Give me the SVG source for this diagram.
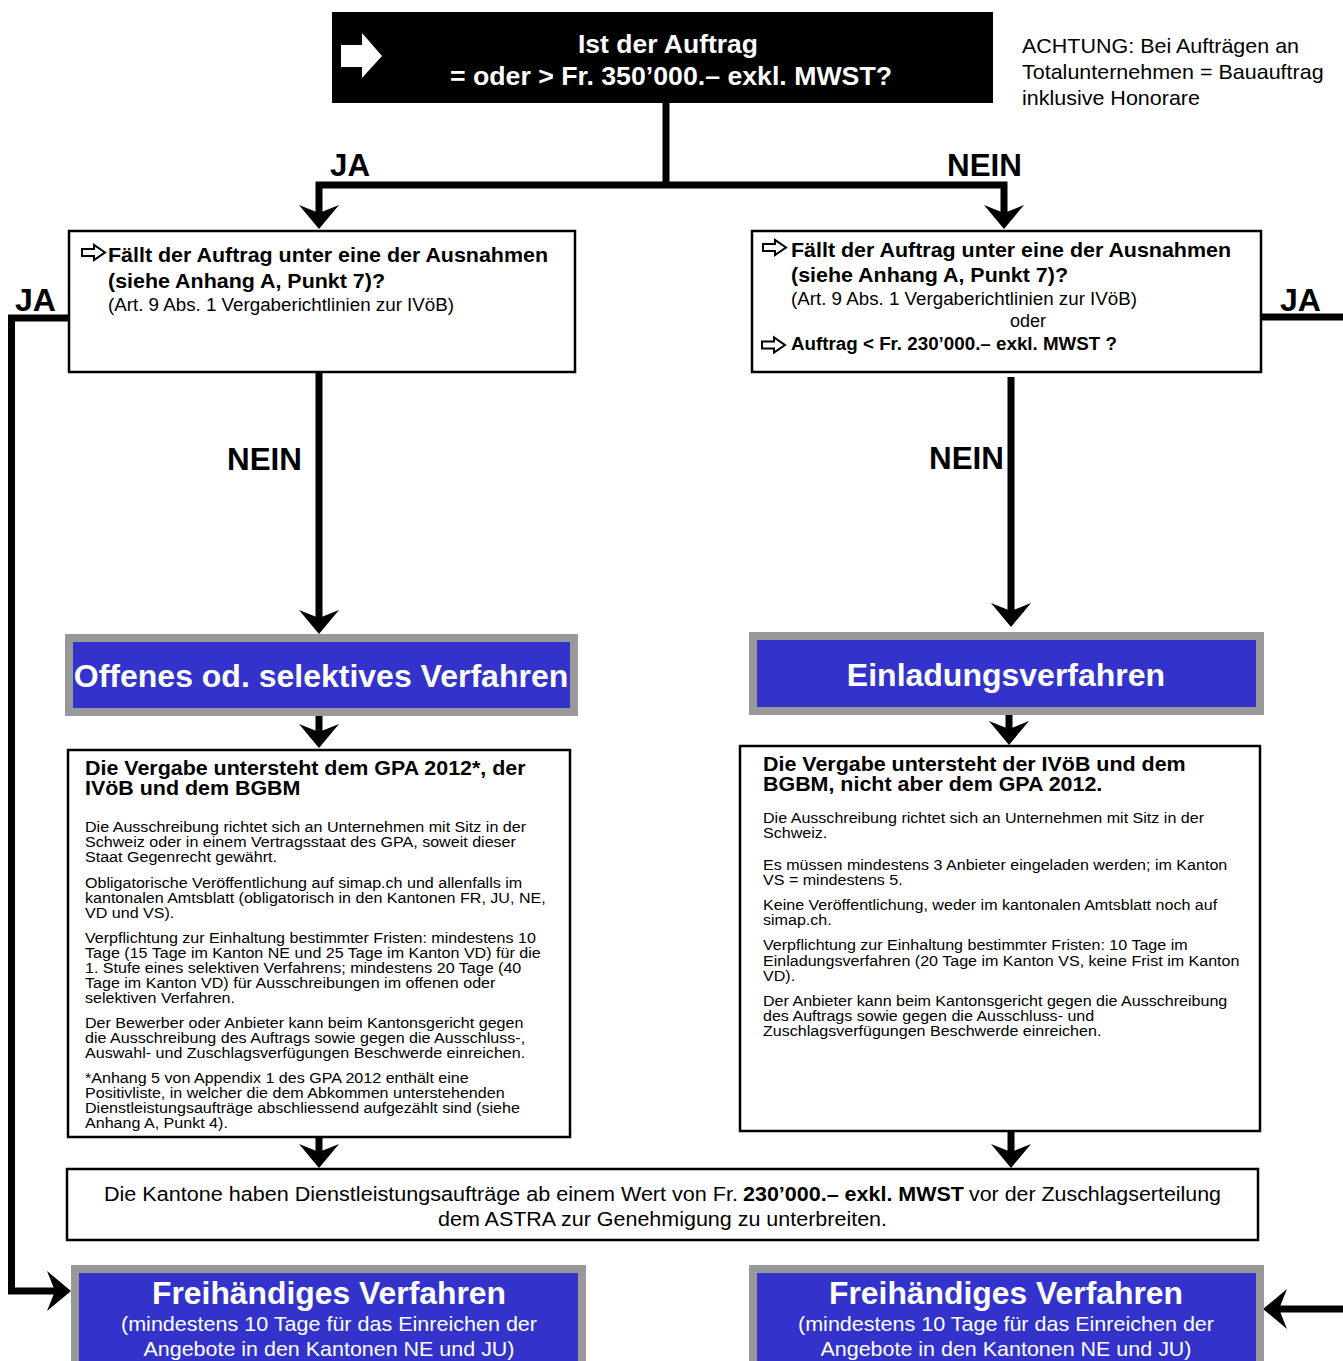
<svg xmlns="http://www.w3.org/2000/svg" xmlns:xlink="http://www.w3.org/1999/xlink" width="1343" height="1361" viewBox="0 0 1343 1361">
<style>
text{font-family:"Liberation Sans",Arial,sans-serif;fill:#000}
.box{fill:#fff;stroke:#000;stroke-width:2.5}
.gray{fill:#999}
.blue{fill:#3333CC}
.conn{fill:none;stroke:#000;stroke-width:7;stroke-linejoin:miter;stroke-linecap:butt}
.ah{fill:#000}
.icon{fill:#fff;stroke:#000;stroke-width:2;stroke-linejoin:miter}
.b{font-weight:bold}
.lbl{font-size:31px;font-weight:bold}
.q{font-size:21px;font-weight:bold}
.qs{font-size:18px}
.h20{font-size:20px;font-weight:bold}
.t15{font-size:15px}
.big{font-size:32px;font-weight:bold;fill:#fff}
.sub{font-size:21px;fill:#fff}
.wh{fill:#fff}
</style>
<defs>
<path id="ahd" class="ah" d="M0,0 L-20,-24 L0,-16 L20,-24 Z"/>
</defs>

<g id="start">
<rect x="332" y="12" width="661" height="91" fill="#000"/>
<polygon points="341,45 362,45 362,33 382,56 362,78 362,67 341,67" fill="#fff"/>
<text class="b wh" font-size="26" x="668" y="53" text-anchor="middle" textLength="180" lengthAdjust="spacingAndGlyphs">Ist der Auftrag</text>
<text class="b wh" font-size="26" x="671" y="85" text-anchor="middle" textLength="442" lengthAdjust="spacingAndGlyphs">= oder &gt; Fr. 350’000.– exkl. MWST?</text>
</g>

<g id="note" transform="translate(1022,0) scale(1.075,1) translate(-1022,0)">
<text font-size="20" x="1022" y="53">ACHTUNG: Bei Aufträgen an</text>
<text font-size="20" x="1022" y="79">Totalunternehmen = Bauauftrag</text>
<text font-size="20" x="1022" y="105">inklusive Honorare</text>
</g>

<g id="connectors">
<path class="conn" d="M666,103 V185"/>
<path class="conn" d="M319,213 V185 H1004 V213"/>
<use xlink:href="#ahd" transform="translate(319,229)"/>
<use xlink:href="#ahd" transform="translate(1004,229)"/>
<path class="conn" d="M319,372 V618"/>
<use xlink:href="#ahd" transform="translate(319,634)"/>
<path class="conn" d="M1011,377 V611"/>
<use xlink:href="#ahd" transform="translate(1011,627)"/>
<path class="conn" d="M319,708 V732"/>
<use xlink:href="#ahd" transform="translate(319,748)"/>
<path class="conn" d="M1009,707 V729"/>
<use xlink:href="#ahd" transform="translate(1009,745)"/>
<path class="conn" d="M319,1137 V1152"/>
<use xlink:href="#ahd" transform="translate(319,1168)"/>
<path class="conn" d="M1011,1131 V1152"/>
<use xlink:href="#ahd" transform="translate(1011,1168)"/>
<path class="conn" d="M69,318 H11.5 V1291 H55"/>
<use xlink:href="#ahd" transform="translate(71,1291) rotate(-90)"/>
<path class="conn" d="M1261,317 H1343"/>
<path class="conn" d="M1343,1309 H1279"/>
<use xlink:href="#ahd" transform="translate(1263,1309) rotate(90)"/>
<text class="lbl" x="330" y="176" textLength="40" lengthAdjust="spacingAndGlyphs">JA</text>
<text class="lbl" x="947" y="176" textLength="75" lengthAdjust="spacingAndGlyphs">NEIN</text>
<text class="lbl" x="15" y="311" textLength="41" lengthAdjust="spacingAndGlyphs">JA</text>
<text class="lbl" x="1280" y="311" textLength="41" lengthAdjust="spacingAndGlyphs">JA</text>
<text class="lbl" x="227" y="470" textLength="75" lengthAdjust="spacingAndGlyphs">NEIN</text>
<text class="lbl" x="929" y="469" textLength="75" lengthAdjust="spacingAndGlyphs">NEIN</text>
</g>

<g id="q-left">
<rect class="box" x="69" y="231" width="506" height="141"/>
<polygon class="icon" points="82,249 94,249 94,245 105,252.5 94,260 94,256 82,256"/>
<text class="q" x="108" y="262" textLength="440" lengthAdjust="spacingAndGlyphs">Fällt der Auftrag unter eine der Ausnahmen</text>
<text class="q" x="108" y="288" textLength="277" lengthAdjust="spacingAndGlyphs">(siehe Anhang A, Punkt 7)?</text>
<text class="qs" x="108" y="311" textLength="346" lengthAdjust="spacingAndGlyphs">(Art. 9 Abs. 1 Vergaberichtlinien zur IVöB)</text>
</g>

<g id="q-right">
<rect class="box" x="752" y="231" width="509" height="141"/>
<polygon class="icon" points="763,244 775,244 775,240 786,247.5 775,255 775,251 763,251"/>
<text class="q" x="791" y="257" textLength="440" lengthAdjust="spacingAndGlyphs">Fällt der Auftrag unter eine der Ausnahmen</text>
<text class="q" x="791" y="282" textLength="277" lengthAdjust="spacingAndGlyphs">(siehe Anhang A, Punkt 7)?</text>
<text class="qs" x="791" y="305" textLength="346" lengthAdjust="spacingAndGlyphs">(Art. 9 Abs. 1 Vergaberichtlinien zur IVöB)</text>
<text class="qs" x="1028" y="327" text-anchor="middle">oder</text>
<polygon class="icon" points="762,341.5 774,341.5 774,337.5 785,345 774,352.5 774,348.5 762,348.5"/>
<text class="b" font-size="18" x="791" y="350" textLength="326" lengthAdjust="spacingAndGlyphs">Auftrag &lt; Fr. 230’000.– exkl. MWST ?</text>
</g>

<g id="offenes">
<rect class="gray" x="65" y="634" width="513" height="82"/>
<rect class="blue" x="73" y="642" width="497" height="66"/>
<text class="big" x="321" y="687" text-anchor="middle">Offenes od. selektives Verfahren</text>
</g>

<g id="einladung">
<rect class="gray" x="749" y="632" width="515" height="83"/>
<rect class="blue" x="757" y="640" width="499" height="67"/>
<text class="big" x="1006" y="686" text-anchor="middle">Einladungsverfahren</text>
</g>

<g id="text-left">
<rect class="box" x="68" y="750" width="502" height="387"/>
<g transform="translate(85,0) scale(1.072,1) translate(-85,0)">
<text class="h20" x="85" y="775">Die Vergabe untersteht dem GPA 2012*, der</text>
<text class="h20" x="85" y="795">IVöB und dem BGBM</text>
<text class="t15" x="85" y="832">Die Ausschreibung richtet sich an Unternehmen mit Sitz in der</text>
<text class="t15" x="85" y="847">Schweiz oder in einem Vertragsstaat des GPA, soweit dieser</text>
<text class="t15" x="85" y="862">Staat Gegenrecht gewährt.</text>
<text class="t15" x="85" y="888">Obligatorische Veröffentlichung auf simap.ch und allenfalls im</text>
<text class="t15" x="85" y="903">kantonalen Amtsblatt (obligatorisch in den Kantonen FR, JU, NE,</text>
<text class="t15" x="85" y="918">VD und VS).</text>
<text class="t15" x="85" y="943">Verpflichtung zur Einhaltung bestimmter Fristen: mindestens 10</text>
<text class="t15" x="85" y="958">Tage (15 Tage im Kanton NE und 25 Tage im Kanton VD) für die</text>
<text class="t15" x="85" y="973">1. Stufe eines selektiven Verfahrens; mindestens 20 Tage (40</text>
<text class="t15" x="85" y="988">Tage im Kanton VD) für Ausschreibungen im offenen oder</text>
<text class="t15" x="85" y="1003">selektiven Verfahren.</text>
<text class="t15" x="85" y="1028">Der Bewerber oder Anbieter kann beim Kantonsgericht gegen</text>
<text class="t15" x="85" y="1043">die Ausschreibung des Auftrags sowie gegen die Ausschluss-,</text>
<text class="t15" x="85" y="1058">Auswahl- und Zuschlagsverfügungen Beschwerde einreichen.</text>
<text class="t15" x="85" y="1083">*Anhang 5 von Appendix 1 des GPA 2012 enthält eine</text>
<text class="t15" x="85" y="1098">Positivliste, in welcher die dem Abkommen unterstehenden</text>
<text class="t15" x="85" y="1113">Dienstleistungsaufträge abschliessend aufgezählt sind (siehe</text>
<text class="t15" x="85" y="1128">Anhang A, Punkt 4).</text>
</g>
</g>

<g id="text-right">
<rect class="box" x="740" y="746" width="520" height="385"/>
<g transform="translate(763,0) scale(1.072,1) translate(-763,0)">
<text class="h20" x="763" y="771">Die Vergabe untersteht der IVöB und dem</text>
<text class="h20" x="763" y="791">BGBM, nicht aber dem GPA 2012.</text>
<text class="t15" x="763" y="823">Die Ausschreibung richtet sich an Unternehmen mit Sitz in der</text>
<text class="t15" x="763" y="838">Schweiz.</text>
<text class="t15" x="763" y="870">Es müssen mindestens 3 Anbieter eingeladen werden; im Kanton</text>
<text class="t15" x="763" y="885">VS = mindestens 5.</text>
<text class="t15" x="763" y="910">Keine Veröffentlichung, weder im kantonalen Amtsblatt noch auf</text>
<text class="t15" x="763" y="925">simap.ch.</text>
<text class="t15" x="763" y="950">Verpflichtung zur Einhaltung bestimmter Fristen: 10 Tage im</text>
<text class="t15" x="763" y="966">Einladungsverfahren (20 Tage im Kanton VS, keine Frist im Kanton</text>
<text class="t15" x="763" y="981">VD).</text>
<text class="t15" x="763" y="1006">Der Anbieter kann beim Kantonsgericht gegen die Ausschreibung</text>
<text class="t15" x="763" y="1021">des Auftrags sowie gegen die Ausschluss- und</text>
<text class="t15" x="763" y="1036">Zuschlagsverfügungen Beschwerde einreichen.</text>
</g>
</g>

<g id="astra">
<rect class="box" x="67" y="1169" width="1191" height="71"/>
<text font-size="20" y="1201"><tspan x="104" textLength="634" lengthAdjust="spacingAndGlyphs">Die Kantone haben Dienstleistungsaufträge ab einem Wert von Fr.</tspan><tspan class="b" x="743" textLength="221" lengthAdjust="spacingAndGlyphs">230’000.– exkl. MWST</tspan><tspan x="969" textLength="252" lengthAdjust="spacingAndGlyphs">vor der Zuschlagserteilung</tspan></text>
<text font-size="20" x="662.5" y="1226" text-anchor="middle" textLength="449" lengthAdjust="spacingAndGlyphs">dem ASTRA zur Genehmigung zu unterbreiten.</text>
</g>

<g id="frei-left">
<rect class="gray" x="71" y="1265" width="515" height="110"/>
<rect class="blue" x="79" y="1273" width="499" height="100"/>
<text class="big" x="329" y="1304" text-anchor="middle" textLength="354" lengthAdjust="spacingAndGlyphs">Freihändiges Verfahren</text>
<text class="sub" x="329" y="1331" text-anchor="middle" textLength="416" lengthAdjust="spacingAndGlyphs">(mindestens 10 Tage für das Einreichen der</text>
<text class="sub" x="329" y="1356" text-anchor="middle" textLength="371" lengthAdjust="spacingAndGlyphs">Angebote in den Kantonen NE und JU)</text>
</g>

<g id="frei-right">
<rect class="gray" x="749" y="1265" width="515" height="110"/>
<rect class="blue" x="757" y="1273" width="499" height="100"/>
<text class="big" x="1006" y="1304" text-anchor="middle" textLength="354" lengthAdjust="spacingAndGlyphs">Freihändiges Verfahren</text>
<text class="sub" x="1006" y="1331" text-anchor="middle" textLength="416" lengthAdjust="spacingAndGlyphs">(mindestens 10 Tage für das Einreichen der</text>
<text class="sub" x="1006" y="1356" text-anchor="middle" textLength="371" lengthAdjust="spacingAndGlyphs">Angebote in den Kantonen NE und JU)</text>
</g>
</svg>
